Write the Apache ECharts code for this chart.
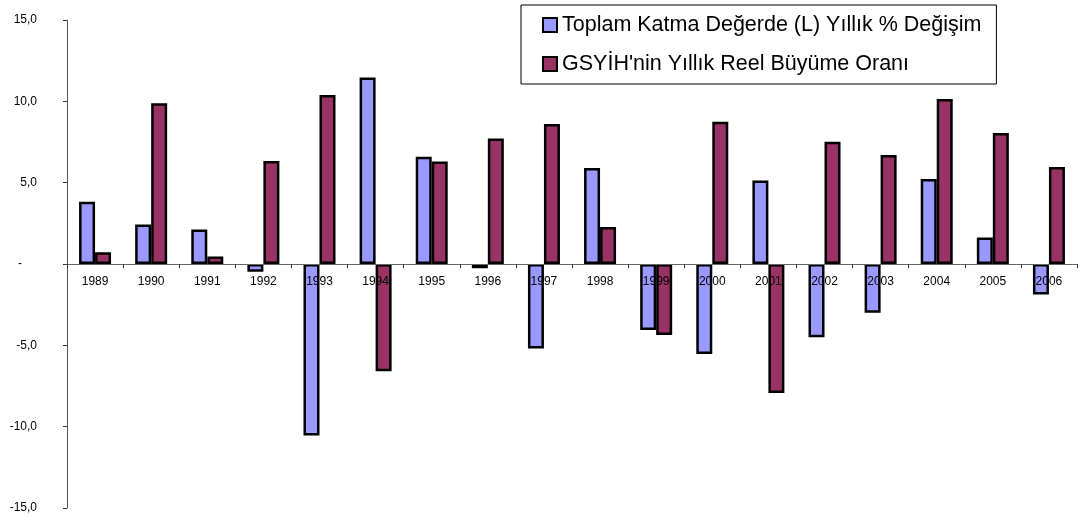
<!DOCTYPE html>
<html>
<head>
<meta charset="utf-8">
<script src="https://cdn.jsdelivr.net/npm/echarts@6/dist/echarts.min.js"></script>
<style>
  html, body { margin: 0; padding: 0; background: #fff; }
  #chart { width: 1081px; height: 517px; }
</style>
</head>
<body>
<div id="chart"></div>
<script>
// Years on the category axis
const years = ['1989','1990','1991','1992','1993','1994','1995','1996','1997',
               '1998','1999','2000','2001','2002','2003','2004','2005','2006'];

// Annual % change in total value added (L)
const valueAddedChange = [3.83, 2.43, 2.12, -0.48, -10.55, 11.46, 6.6, -0.26, -5.2,
                          5.9, -4.05, -5.53, 5.14, -4.5, -3.0, 5.22, 1.63, -1.88];

// Annual real GDP growth rate
const gdpGrowth = [0.73, 9.88, 0.46, 6.33, 10.39, -6.6, 6.3, 7.72, 8.6,
                   2.27, -4.36, 8.75, -7.93, 7.52, 6.7, 10.14, 8.05, 5.96];

const seriesNames = ["Toplam Katma Değerde (L) Yıllık % Değişim",
                     "GSYİH'nin Yıllık Reel Büyüme Oranı"];

const yTicks = { min: -15, max: 15, step: 5 };

const fontFamily = 'Arial, "Liberation Sans", sans-serif';

const gridBox = { left: 67, right: 4, top: 20, bottom: 9 };
const plotHeight = 517 - gridBox.top - gridBox.bottom;
// Category axis sits on the zero line, labels included
const zeroShift = -plotHeight * (0 - yTicks.min) / (yTicks.max - yTicks.min);

const chart = echarts.init(document.getElementById('chart'), null, { renderer: 'canvas' });

function fmtY(v) {
  if (v === 0) return '{z|-}';
  return v.toFixed(1).replace('.', ',');
}

chart.setOption({
  animation: false,
  backgroundColor: '#fff',
  textStyle: { fontFamily: fontFamily },
  grid: Object.assign({ containLabel: false, outerBoundsMode: 'none' }, gridBox),
  legend: {
    orient: 'vertical',
    left: 521,
    top: 5,
    padding: [9, 15, 9, 21],
    itemGap: 17,
    itemWidth: 14,
    itemHeight: 14,
    icon: 'rect',
    borderColor: '#000',
    borderWidth: 1,
    itemStyle: { borderColor: '#000', borderWidth: 2 },
    textStyle: { fontSize: 21.5, color: '#000', fontFamily: fontFamily, padding: [0, 0, 0, 0] },
    data: seriesNames
  },
  xAxis: {
    type: 'category',
    data: years,
    z: 10,
    offset: zeroShift,
    axisLine: { onZero: false, lineStyle: { color: '#666', width: 1 } },
    axisTick: { show: true, inside: false, length: 4, lineStyle: { color: '#333' } },
    axisLabel: { fontSize: 12, color: '#000', margin: 12, fontFamily: fontFamily },
    splitLine: { show: false }
  },
  yAxis: {
    type: 'value',
    min: yTicks.min,
    max: yTicks.max,
    interval: yTicks.step,
    axisLine: { show: true, lineStyle: { color: '#555', width: 1 } },
    axisTick: { show: true, inside: false, length: 4, lineStyle: { color: '#333' } },
    axisLabel: {
      fontSize: 12, color: '#000', margin: 30, fontFamily: fontFamily,
      formatter: fmtY,
      rich: { z: { fontSize: 12, color: '#000', padding: [0, 15, 0, 0], fontFamily: fontFamily } }
    },
    splitLine: { show: false }
  },
  series: [
    {
      name: seriesNames[0],
      type: 'bar',
      data: valueAddedChange,
      barWidth: 16,
      barGap: '0%',
      itemStyle: { color: '#9999FF', borderColor: '#000', borderWidth: 2.5 }
    },
    {
      name: seriesNames[1],
      type: 'bar',
      data: gdpGrowth,
      barWidth: 16,
      barGap: '0%',
      itemStyle: { color: '#993366', borderColor: '#000', borderWidth: 2.5 }
    }
  ]
});
</script>
</body>
</html>
